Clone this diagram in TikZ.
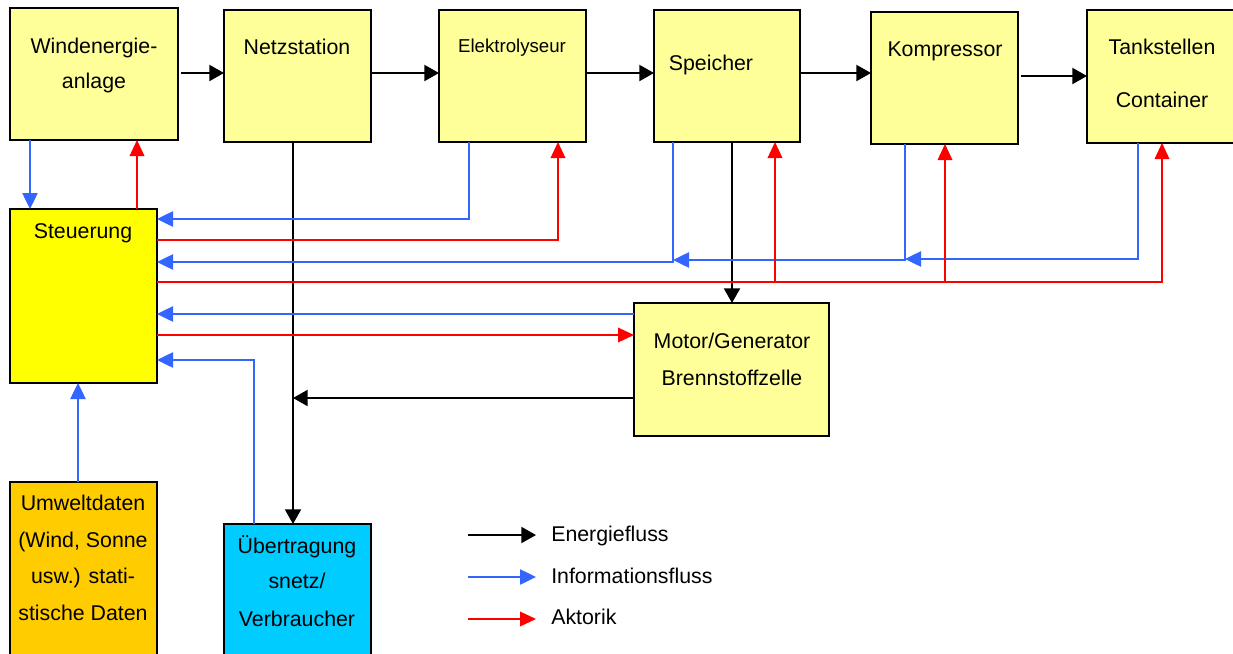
\documentclass[tikz,border=0pt]{standalone}
\usepackage{fontspec}
\setmainfont{Liberation Sans}
\usetikzlibrary{arrows.meta,fit}
\definecolor{lightyel}{HTML}{FFFF99}
\definecolor{steuyel}{HTML}{FFFF00}
\definecolor{umweltor}{HTML}{FFCC00}
\definecolor{uebcyan}{HTML}{00CCFF}
\definecolor{infoblue}{HTML}{3366FF}
\definecolor{actred}{HTML}{FF0000}
\tikzset{
  box/.style={draw=black, line width=1.5pt, inner sep=0pt, outer sep=0pt},
  lbl/.style={anchor=base, inner sep=0pt, font=\fontsize{16}{19}\selectfont},
  lbls/.style={anchor=base, inner sep=0pt, font=\fontsize{14}{17}\selectfont},
  energy/.style={draw=black, line width=1.5pt, -{Triangle[length=11pt,width=12pt]}},
  info/.style={draw=infoblue, line width=1pt, -{Triangle[length=12pt,width=11.5pt]}},
  act/.style={draw=actred, line width=1pt, -{Triangle[length=12pt,width=11pt]}},
}
\begin{document}
\begin{tikzpicture}[x=0.75pt,y=-0.75pt]
\useasboundingbox[fill=white] (0,0) rectangle (1233,654);
% boxes
\node[box, fill=lightyel, fit={(10,8) (178,140)}] (wind) {};
\node[box, fill=lightyel, fit={(224,10) (371,142)}] (netz) {};
\node[box, fill=lightyel, fit={(439,10) (586,142)}] (elek) {};
\node[box, fill=lightyel, fit={(654,10) (800,142)}] (spei) {};
\node[box, fill=lightyel, fit={(871,12) (1018,144)}] (komp) {};
\node[box, fill=lightyel, fit={(1087,10) (1234,143)}] (tank) {};
\node[box, fill=steuyel, fit={(10,209) (157,383)}] (steu) {};
\node[box, fill=umweltor, fit={(10,482) (157,664)}] (umw) {};
\node[box, fill=uebcyan, fit={(224,524) (371,664)}] (ueb) {};
\node[box, fill=lightyel, fit={(634,303) (829,436)}] (motor) {};
% labels
\node[lbl] (t1) at (94,53) {Windenergie-};
\node[lbl] (t2) at (94,88) {anlage};
\node[lbl] (t3) at (297,54) {Netzstation};
\node[lbls] (t4) at (512,52) {Elektrolyseur};
\node[lbl] (t5) at (711,70) {Speicher};
\node[lbl] (t6) at (945,56) {Kompressor};
\node[lbl] (t7) at (1162,54) {Tankstellen};
\node[lbl] (t8) at (1162,107) {Container};
\node[lbl] (t9) at (83,238) {Steuerung};
\node[lbl] (t10) at (83,510) {Umweltdaten};
\node[lbl] (t11) at (83,547) {(Wind, Sonne};
\node[lbl] (t12) at (83,583) {usw.) stati-};
\node[lbl] (t13) at (83,620) {stische Daten};
\node[lbl] (t14) at (297,553) {Übertragung};
\node[lbl] (t15) at (297,588) {snetz/};
\node[lbl] (t16) at (297,626) {Verbraucher};
\node[lbl] (t17) at (732,348) {Motor/Generator};
\node[lbl] (t18) at (732,385) {Brennstoffzelle};
% junction coordinates
\coordinate (j1) at (673,260);
\coordinate (j2) at (905,259);
\coordinate (j3) at (293,398);
\coordinate (r1) at (775,282);
\coordinate (r2) at (945,282);
% energy flow
\draw[energy, shorten <=2.25pt] (wind.east |- 0,73) -- (netz.west |- 0,73);
\draw[energy] (netz.east |- 0,73) -- (elek.west |- 0,73);
\draw[energy] (elek.east |- 0,73) -- (spei.west |- 0,73);
\draw[energy] (spei.east |- 0,73) -- (komp.west |- 0,73);
\draw[energy, shorten <=2.25pt] (komp.east |- 0,76) -- (tank.west |- 0,76);
\draw[energy] (netz.south -| 293,0) -- (ueb.north -| 293,0);
\draw[energy] (spei.south -| 732,0) -- (motor.north -| 732,0);
\draw[energy] (motor.west |- 0,398) -- (j3);
% information flow
\draw[info] (wind.south -| 30,0) -- (steu.north -| 30,0);
\draw[info] (elek.south -| 469,0) |- (steu.east |- 0,219);
\draw[info] (spei.south -| 673,0) |- (steu.east |- 0,262);
\draw[info] (komp.south -| 905,0) |- (j1);
\draw[info] (tank.south -| 1138,0) |- (j2);
\draw[info] (motor.west |- 0,314) -- (steu.east |- 0,314);
\draw[info] (ueb.north -| 254,0) |- (steu.east |- 0,360);
\draw[info] (umw.north -| 78,0) -- (steu.south -| 78,0);
% actuation
\draw[act] (steu.north -| 137,0) -- (wind.south -| 137,0);
\draw[act] (steu.east |- 0,240) -| (elek.south -| 558,0);
\draw[act] (steu.east |- 0,282) -| (tank.south -| 1162,0);
\draw[act] (r1) -- (spei.south -| 775,0);
\draw[act] (r2) -- (komp.south -| 945,0);
\draw[act] (steu.east |- 0,335) -- (motor.west |- 0,335);
% legend
\node[lbl, anchor=base west] (le1) at (551,541) {Energiefluss};
\node[lbl, anchor=base west] (le2) at (551,583) {Informationsfluss};
\node[lbl, anchor=base west] (le3) at (551,624) {Aktorik};
\coordinate (la1) at (468,535);
\coordinate (la2) at (468,577);
\coordinate (la3) at (468,619);
\draw[energy] (la1) -- (la1 -| 536,0);
\draw[info] (la2) -- (la2 -| 536,0);
\draw[act] (la3) -- (la3 -| 536,0);
\end{tikzpicture}
\end{document}
